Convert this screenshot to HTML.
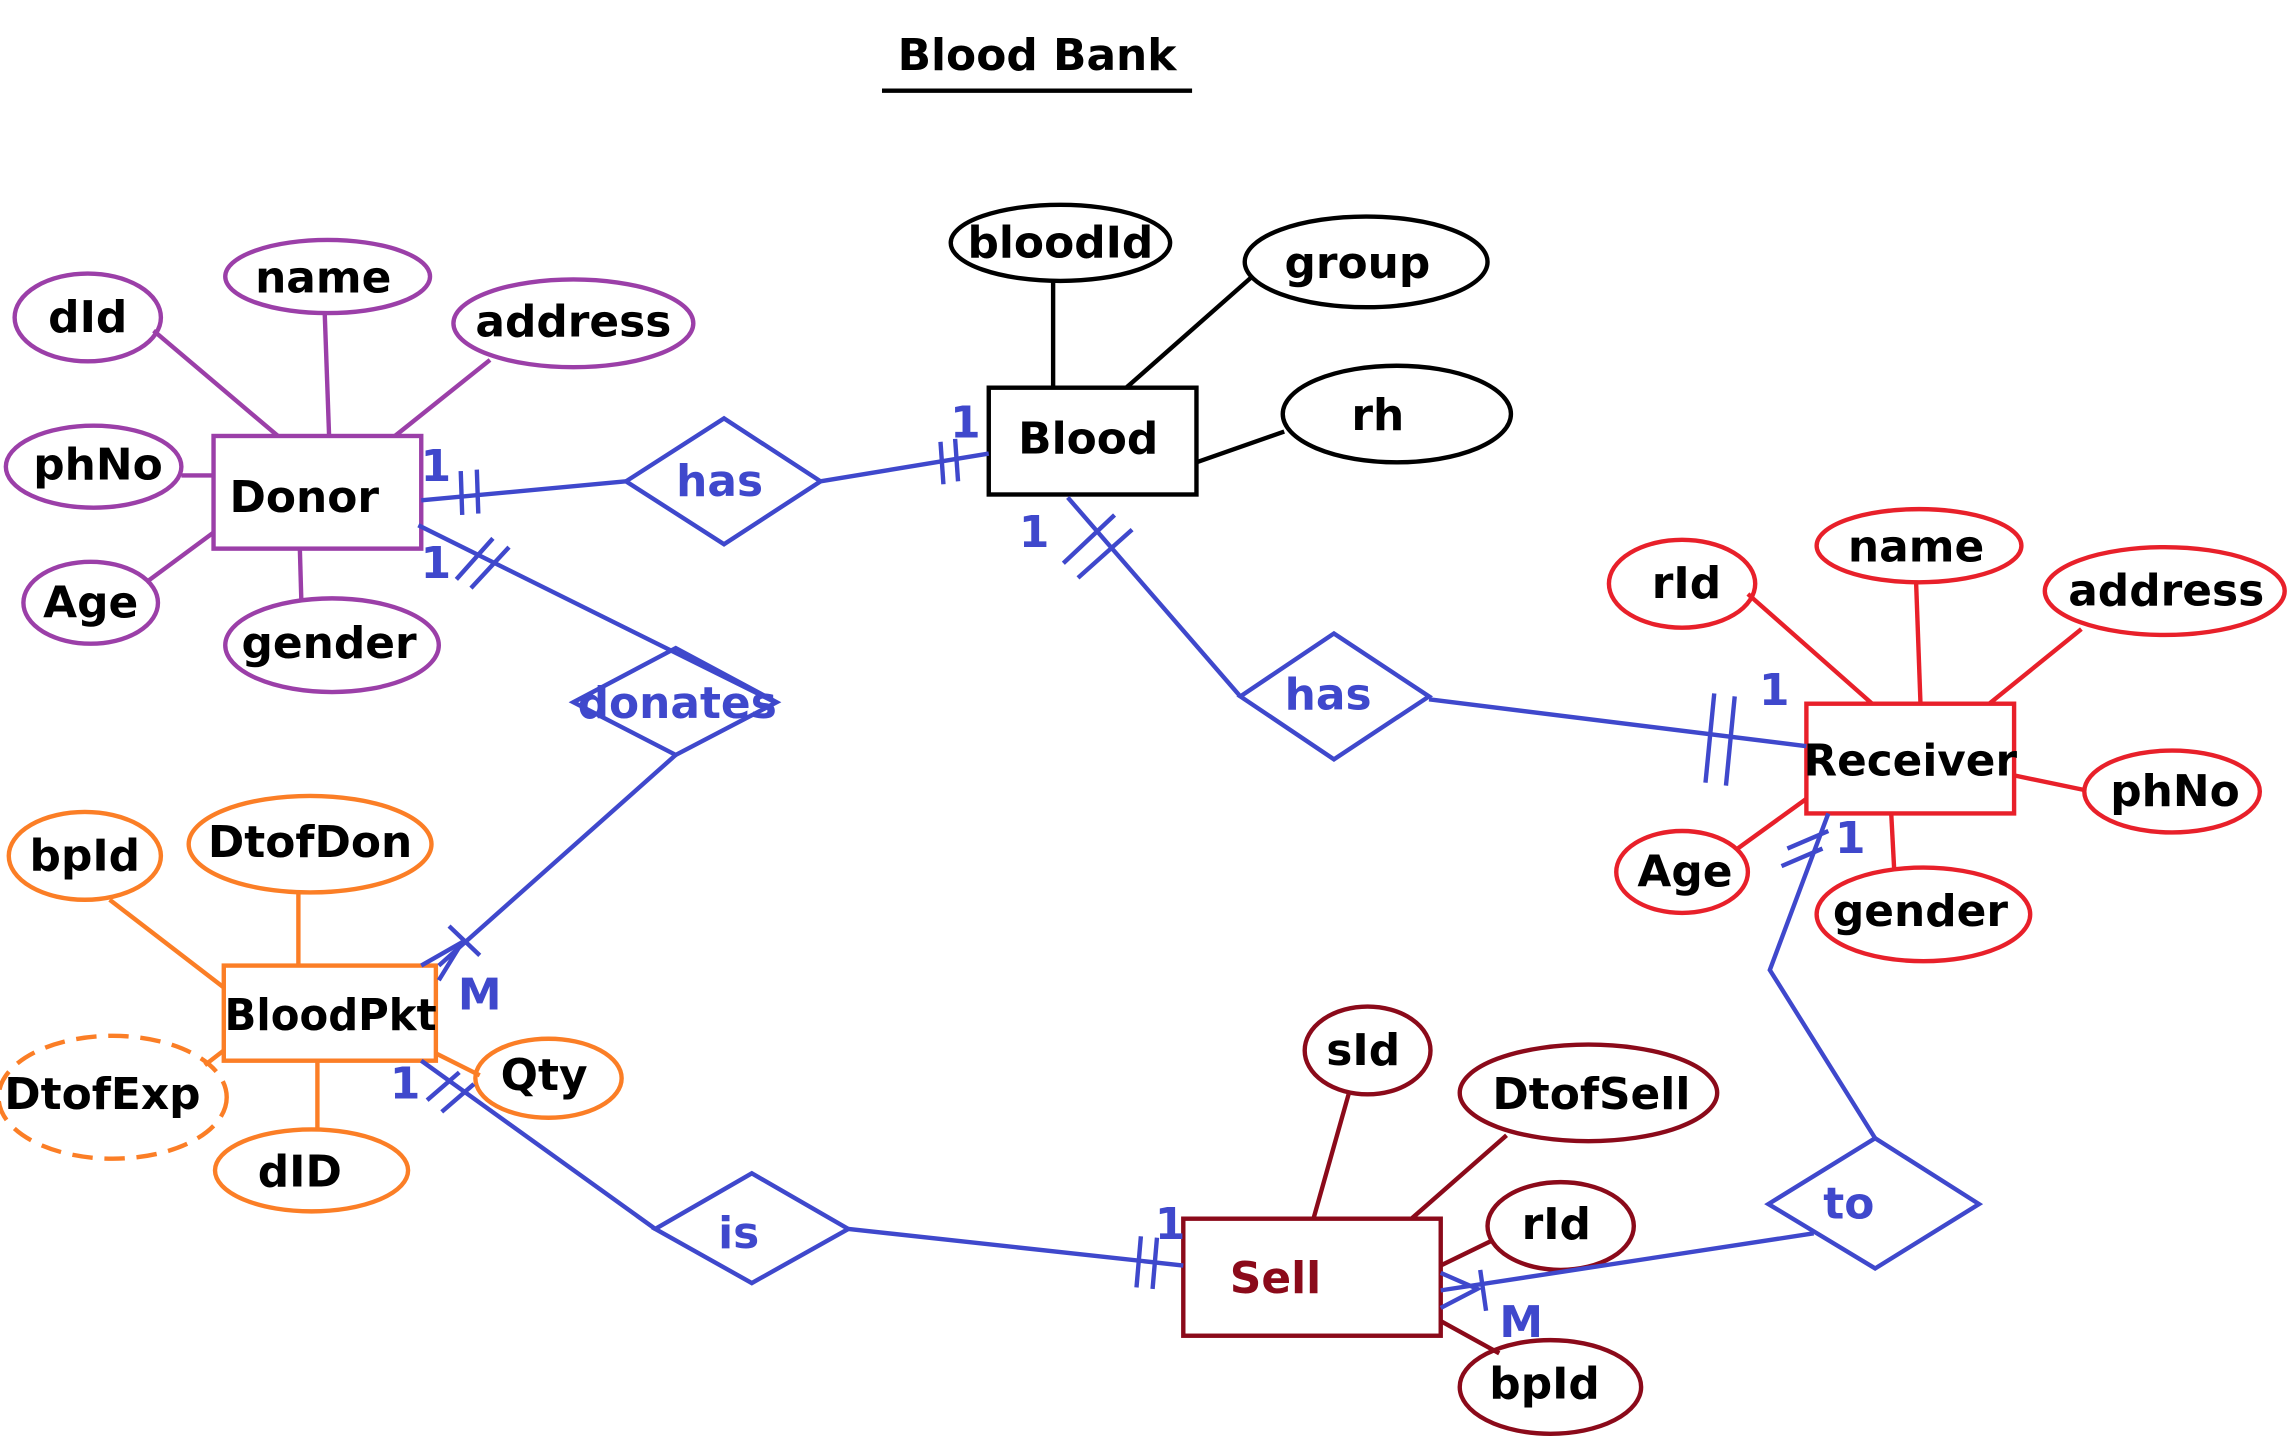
<!DOCTYPE html>
<html><head><meta charset="utf-8"><style>
html,body{margin:0;padding:0;background:#fff;}
svg{display:block;}
text{font-family:"DejaVu Sans","Liberation Sans",sans-serif;font-weight:bold;text-anchor:middle;dominant-baseline:central;}
</style></head><body>
<svg width="2292" height="1444" viewBox="0 0 1567 987" preserveAspectRatio="none">
<g fill="none" stroke-width="3">
<!-- title -->
<text x="709" y="38" font-size="30" font-weight="normal" fill="#000" stroke="none">Blood Bank</text>
<line x1="603" y1="62" x2="815" y2="62" stroke="#000"/>

<!-- Donor -->
<g stroke="#9b3fa8">
<line x1="105" y1="226" x2="190" y2="298"/><line x1="222" y1="214" x2="225" y2="298"/>
<line x1="335" y1="246" x2="270" y2="298"/><line x1="124" y1="325" x2="146" y2="325"/>
<line x1="100" y1="398" x2="146" y2="364"/><line x1="205" y1="375" x2="206" y2="410"/>
<rect x="146" y="298" width="142" height="77"/>
<ellipse cx="60" cy="217" rx="50" ry="30"/>
<ellipse cx="224" cy="189" rx="70" ry="25"/>
<ellipse cx="392" cy="221" rx="82" ry="30"/>
<ellipse cx="64" cy="319" rx="60" ry="28"/>
<ellipse cx="62" cy="412" rx="46" ry="28"/>
<ellipse cx="227" cy="441" rx="73" ry="32"/>
</g>

<!-- Blood -->
<g stroke="#000">
<line x1="720" y1="192" x2="720" y2="265"/><line x1="855" y1="190" x2="770" y2="265"/>
<line x1="878" y1="295" x2="818" y2="316"/>
<rect x="676" y="265" width="142" height="73"/>
<ellipse cx="725" cy="166" rx="75" ry="26"/>
<ellipse cx="934" cy="179" rx="83" ry="31"/>
<ellipse cx="955" cy="283" rx="78" ry="33"/>
</g>

<!-- Receiver -->
<g stroke="#e8202a">
<line x1="1195" y1="406" x2="1280" y2="481"/><line x1="1310" y1="398" x2="1313" y2="481"/>
<line x1="1423" y1="430" x2="1360" y2="481"/><line x1="1377" y1="530" x2="1425" y2="540"/>
<line x1="1188" y1="580" x2="1235" y2="546"/><line x1="1293" y1="556" x2="1295" y2="594"/>
<rect x="1235" y="481" width="142" height="75"/>
<ellipse cx="1150" cy="399" rx="50" ry="30"/>
<ellipse cx="1312" cy="373" rx="70" ry="25"/>
<ellipse cx="1480" cy="404" rx="82" ry="30"/>
<ellipse cx="1485" cy="541" rx="60" ry="28"/>
<ellipse cx="1150" cy="596" rx="45" ry="28"/>
<ellipse cx="1315" cy="625" rx="73" ry="32"/>
</g>

<!-- BloodPkt -->
<g stroke="#fb7e26">
<line x1="75" y1="615" x2="153" y2="675"/><line x1="204" y1="610" x2="204" y2="660"/>
<line x1="153" y1="718" x2="140" y2="728"/><line x1="217" y1="725" x2="217" y2="772"/>
<line x1="298" y1="720" x2="328" y2="735"/>
<rect x="153" y="660" width="145" height="65"/>
<ellipse cx="58" cy="585" rx="52" ry="30"/>
<ellipse cx="212" cy="577" rx="83" ry="33"/>
<ellipse cx="77" cy="750" rx="78" ry="42" stroke-dasharray="14 8"/>
<ellipse cx="213" cy="800" rx="66" ry="28"/>
<ellipse cx="375" cy="737" rx="50" ry="27"/>
</g>

<!-- Sell -->
<g stroke="#8b0a1a">
<line x1="922" y1="748" x2="898" y2="833"/><line x1="1030" y1="776" x2="965" y2="833"/>
<line x1="1020" y1="848" x2="985" y2="865"/><line x1="985" y1="903" x2="1025" y2="925"/>
<rect x="809" y="833" width="176" height="80"/>
<ellipse cx="935" cy="718" rx="43" ry="30"/>
<ellipse cx="1086" cy="747" rx="88" ry="33"/>
<ellipse cx="1067" cy="838" rx="50" ry="30"/>
<ellipse cx="1060" cy="948" rx="62" ry="32"/>
</g>

<!-- relationships -->
<g stroke="#3f48cc">
<polygon points="428,329 495,286 561,329 495,372"/>
<line x1="288" y1="342" x2="428" y2="329"/><line x1="561" y1="329" x2="676" y2="310"/>
<line x1="315" y1="322" x2="316" y2="352"/><line x1="326" y1="321" x2="327" y2="351"/>
<line x1="643" y1="302" x2="645" y2="331"/><line x1="653" y1="300" x2="655" y2="329"/>

<polygon points="848,476 912,433 977,476 912,519"/>
<line x1="730" y1="340" x2="848" y2="476"/><line x1="977" y1="478" x2="1235" y2="510"/>
<line x1="727" y1="385" x2="762" y2="352"/><line x1="737" y1="395" x2="774" y2="362"/>
<line x1="1172" y1="474" x2="1166" y2="535"/><line x1="1186" y1="476" x2="1180" y2="537"/>

<polygon points="392,480 462,443 531,480 462,516"/>
<line x1="286" y1="359" x2="530" y2="480"/>
<line x1="312" y1="396" x2="337" y2="368"/><line x1="322" y1="402" x2="348" y2="374"/>
<line x1="462" y1="516" x2="300" y2="660"/>
<polyline points="288,660 316,644 300,670"/>
<line x1="307" y1="633" x2="328" y2="653"/>

<polygon points="448,840 514,802 580,840 514,877"/>
<line x1="288" y1="725" x2="448" y2="840"/><line x1="580" y1="840" x2="809" y2="865"/>
<line x1="292" y1="752" x2="314" y2="733"/><line x1="302" y1="760" x2="324" y2="741"/>
<line x1="780" y1="845" x2="777" y2="880"/><line x1="791" y1="846" x2="788" y2="881"/>

<polygon points="1209,823 1282,778 1353,823 1282,867"/>
<polyline points="1250,556 1210,663 1282,778"/>
<line x1="1222" y1="580" x2="1250" y2="568"/><line x1="1218" y1="592" x2="1246" y2="580"/>
<line x1="1240" y1="843" x2="985" y2="882"/>
<polyline points="985,870 1010,881 985,894"/>
<line x1="1012" y1="868" x2="1016" y2="896"/>
</g>
</g>

<!-- texts -->
<g font-size="30" fill="#000">
<text x="208" y="340">Donor</text>
<text x="60" y="217">dId</text>
<text x="221" y="190">name</text>
<text x="392" y="220">address</text>
<text x="67" y="318">phNo</text>
<text x="62" y="412">Age</text>
<text x="225" y="440">gender</text>
<text x="744" y="300">Blood</text>
<text x="725" y="166">bloodId</text>
<text x="928" y="180">group</text>
<text x="942" y="284">rh</text>
<text x="1306" y="520" textLength="146" lengthAdjust="spacingAndGlyphs">Receiver</text>
<text x="1153" y="399">rId</text>
<text x="1310" y="374">name</text>
<text x="1481" y="404">address</text>
<text x="1487" y="541">phNo</text>
<text x="1152" y="596">Age</text>
<text x="1313" y="623">gender</text>
<text x="226" y="694" textLength="145" lengthAdjust="spacingAndGlyphs">BloodPkt</text>
<text x="58" y="585">bpId</text>
<text x="212" y="576">DtofDon</text>
<text x="70" y="748">DtofExp</text>
<text x="205" y="801">dID</text>
<text x="372" y="735">Qty</text>
<text x="872" y="874" fill="#8b0a1a">Sell</text>
<text x="932" y="718">sId</text>
<text x="1088" y="748">DtofSell</text>
<text x="1064" y="837">rId</text>
<text x="1056" y="946">bpId</text>
</g>
<g font-size="30" fill="#3f48cc">
<text x="492" y="329">has</text>
<text x="908" y="475">has</text>
<text x="463" y="481">donates</text>
<text x="505" y="843">is</text>
<text x="1264" y="823">to</text>
<text x="298" y="319">1</text>
<text x="660" y="289">1</text>
<text x="298" y="385">1</text>
<text x="707" y="364">1</text>
<text x="1213" y="472">1</text>
<text x="1265" y="573">1</text>
<text x="277" y="741">1</text>
<text x="800" y="837">1</text>
<text x="328" y="680">M</text>
<text x="1040" y="904">M</text>
</g>
</svg>
</body></html>
